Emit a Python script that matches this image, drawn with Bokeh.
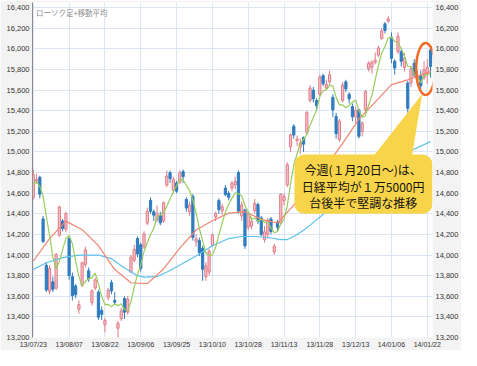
from bokeh.plotting import figure
from bokeh.models import (Range1d, LinearAxis, FixedTicker, NumeralTickFormatter,
                          Label, BoxAnnotation, ColumnDataSource)
from bokeh.embed import file_html
from bokeh.resources import INLINE

# ---------------- data ----------------
tick_labels = ["13/07/23", "13/08/07", "13/08/22", "13/09/06", "13/09/25", "13/10/10",
               "13/10/28", "13/11/13", "13/11/28", "13/12/13", "14/01/06", "14/01/22"]
tick_index = [0, 11, 22, 33, 44, 55, 66, 77, 88, 99, 110, 121]

opens = [14560, 14720, 14755, 14350, 13900, 13650, 13740, 13680, 14190, 14330,
         14250, 14160, 13790, 13700, 13474, 13705, 13909, 13847, 13540, 13680,
         13640, 13464, 13325, 13590, 13733, 13560, 13290, 13384, 13578, 13446,
         13837, 13950, 14160, 14100, 14080, 14310, 14530, 14420, 14340, 14380,
         14330, 14680, 14800, 14630, 14700, 14710, 14810, 14540, 14420, 14570,
         14130, 14140, 14066, 13790, 13835, 14094, 14370, 14530, 14430, 14650,
         14600, 14650, 14680, 14800, 14380, 14437, 14270, 14280, 14430, 14490,
         14360, 14150, 14200, 14350, 14030, 14320, 14310, 14530, 14680, 15050,
         15250, 15110, 15050, 15140, 15190, 15500, 15600, 15500, 15560, 15740,
         15620, 15680, 15530, 15344, 15120, 15500, 15680, 15560, 15440, 15340,
         15409, 15200, 15409, 15807, 15820, 15870, 15940, 16100, 16243, 16270,
         16113, 15880, 15974, 15974, 15820, 15668, 15668, 15860, 15700, 15733,
         15720, 15760, 15990]
highs = [14830, 14790, 14770, 14380, 13930, 13900, 13790, 14020, 14480, 14350,
         14420, 14180, 13830, 13720, 13560, 13935, 14080, 13880, 13670, 13780,
         13660, 13500, 13390, 13680, 13760, 13640, 13360, 13490, 13600, 13600,
         14000, 14100, 14180, 14120, 14230, 14460, 14560, 14440, 14480, 14420,
         14520, 14820, 14820, 14760, 14720, 14820, 14830, 14560, 14520, 14590,
         14200, 14170, 14090, 13930, 14060, 14210, 14420, 14550, 14500, 14680,
         14620, 14720, 14760, 14820, 14520, 14450, 14420, 14370, 14545, 14510,
         14380, 14280, 14360, 14370, 14110, 14340, 14600, 14600, 14900, 15180,
         15270, 15160, 15130, 15150, 15400, 15650, 15630, 15520, 15750, 15760,
         15700, 15790, 15560, 15380, 15320, 15680, 15700, 15580, 15470, 15440,
         15420, 15300, 15600, 15880, 15890, 15965, 16030, 16200, 16260, 16320,
         16160, 15900, 16160, 16000, 15960, 15690, 15830, 15900, 15790, 15790,
         15880, 15900, 16010]
lows = [14540, 14690, 14550, 14120, 13640, 13620, 13640, 13660, 14180, 14230,
        14220, 13760, 13560, 13580, 13430, 13690, 13880, 13740, 13510, 13660,
        13370, 13370, 13250, 13560, 13620, 13520, 13190, 13360, 13380, 13420,
        13820, 13930, 13980, 13840, 14060, 14290, 14400, 14330, 14320, 14290,
        14310, 14660, 14700, 14600, 14600, 14690, 14700, 14420, 14380, 14140,
        14080, 13990, 13750, 13750, 13800, 14080, 14330, 14400, 14390, 14570,
        14530, 14620, 14640, 14400, 14330, 14060, 14240, 14250, 14400, 14300,
        14180, 14120, 14160, 14200, 14000, 14230, 14300, 14480, 14660, 15000,
        15130, 15060, 14980, 15000, 15170, 15480, 15480, 15400, 15540, 15640,
        15600, 15650, 15340, 15130, 15100, 15480, 15580, 15470, 15300, 15280,
        15130, 15150, 15380, 15780, 15760, 15850, 15920, 16090, 16150, 16250,
        15860, 15750, 15950, 15830, 15780, 15380, 15630, 15720, 15660, 15600,
        15700, 15660, 15720]
closes = [14778, 14731, 14590, 14129, 13661, 13869, 13668, 14005, 14466, 14258,
          14401, 13800, 13606, 13615, 13519, 13925, 14050, 13770, 13651, 13758,
          13397, 13425, 13366, 13660, 13652, 13542, 13338, 13459, 13446, 13573,
          13979, 14054, 14010, 13870, 14205, 14424, 14425, 14387, 14404, 14312,
          14506, 14766, 14742, 14733, 14620, 14799, 14760, 14456, 14485, 14170,
          14157, 14024, 13862, 13895, 14038, 14194, 14405, 14441, 14468, 14586,
          14561, 14694, 14713, 14426, 14486, 14088, 14396, 14326, 14502, 14327,
          14201, 14225, 14337, 14229, 14086, 14269, 14588, 14567, 14876, 15165,
          15164, 15126, 15086, 15076, 15381, 15619, 15515, 15449, 15727, 15662,
          15655, 15749, 15407, 15177, 15299, 15650, 15611, 15515, 15341, 15403,
          15152, 15279, 15587, 15859, 15870, 15890, 16009, 16174, 16178, 16291,
          15908, 15814, 16121, 15880, 15912, 15422, 15809, 15747, 15734, 15641,
          15796, 15821, 15830]

# 5-day moving average (green), one value per candle
ma5 = [14690, 14713, 14664, 14572, 14372, 14190, 13978, 13866, 13934, 14053,
       14160, 14191, 14111, 13941, 13793, 13698, 13743, 13772, 13779, 13827,
       13722, 13597, 13519, 13521, 13497, 13526, 13509, 13527, 13473, 13460,
       13548, 13691, 13812, 13906, 14033, 14122, 14196, 14260, 14369, 14390,
       14407, 14475, 14546, 14612, 14673, 14732, 14731, 14674, 14624, 14534,
       14406, 14259, 14138, 14020, 13994, 14001, 14077, 14195, 14309, 14419,
       14492, 14550, 14604, 14596, 14576, 14481, 14422, 14344, 14360, 14328,
       14350, 14316, 14318, 14264, 14216, 14229, 14302, 14348, 14477, 14693,
       14872, 14980, 15083, 15123, 15167, 15258, 15335, 15408, 15538, 15594,
       15602, 15648, 15640, 15530, 15457, 15456, 15429, 15450, 15483, 15504,
       15404, 15338, 15352, 15456, 15549, 15697, 15843, 15960, 16024, 16108,
       16112, 16073, 16062, 16003, 15927, 15830, 15829, 15754, 15725, 15671,
       15745, 15748, 15764]

# 25-day moving average (red), read at sampled candles
ma25_index = [0, 5, 10, 15, 20, 25, 30, 35, 40, 45, 50, 55, 60, 65, 70, 75, 80,
              85, 90, 95, 100, 105, 110, 115, 120, 122]
ma25 = [13942, 14159, 14329, 14246, 14092, 13859, 13731, 13723, 13865, 14067,
        14243, 14333, 14407, 14422, 14346, 14311, 14485, 14638, 14862, 15083,
        15318, 15483, 15654, 15700, 15758, 15779]

# 75-day moving average (blue), read at sampled candles
ma75_index = [0, 4, 9, 14, 20, 24, 28, 32, 34, 38, 42, 46, 50, 55, 60, 64, 68,
              72, 76, 78, 80, 83, 85, 90, 100, 115, 122]
ma75 = [13860, 13925, 13975, 14000, 14000, 13965, 13875, 13800, 13785, 13790,
        13850, 13920, 13990, 14090, 14160, 14180, 14180, 14170, 14150, 14150,
        14180, 14240, 14290, 14420, 14680, 15000, 15100]

y_ticks = list(range(13200, 16401, 200))

title_text = "ローソク足+移動平均"
unit_text = "(円)"
callout_lines = ["今週(１月20日～)は、", "日経平均が１万5000円", "台後半で堅調な推移"]

# ---------------- styling ----------------
PINK_FILL = "#f6c4cb"
PINK_LINE = "#e27a86"
BLUE = "#2f7cbf"
GREEN = "#98cc5c"
RED = "#f28470"
SKY = "#5cc0ec"
GRID = "#dbe5f4"
YELLOW = "#f8d44a"
ORANGE = "#f26a21"
PANEL = "#f3f3f3"
AXIS_FONT = "Liberation Sans"
JP_FONT = "Noto Sans CJK JP"

n = len(closes)
p = figure(width=461, height=350,
           x_range=Range1d(-0.25, 122.6), y_range=Range1d(13200, 16450),
           output_backend="svg", toolbar_location=None,
           min_border_left=32, min_border_right=29, min_border_top=2, min_border_bottom=13,
           background_fill_color="white", border_fill_color=PANEL,
           outline_line_color=None)


def style_axis(ax, size, standoff):
    ax.major_tick_line_color = None
    ax.minor_tick_line_color = None
    ax.major_tick_out = 0
    ax.major_tick_in = 0
    ax.minor_tick_out = 0
    ax.minor_tick_in = 0
    ax.major_label_standoff = standoff
    ax.major_label_text_font = AXIS_FONT
    ax.major_label_text_font_size = size
    ax.major_label_text_color = "#333333"


# left axis
la = p.yaxis[0]
la.ticker = FixedTicker(ticks=y_ticks)
la.formatter = NumeralTickFormatter(format="0,0")
la.axis_line_color = "#8c8c8c"
style_axis(la, "7.5px", 3)

# right axis
ra = LinearAxis(ticker=FixedTicker(ticks=y_ticks), formatter=NumeralTickFormatter(format="0,0"))
ra.axis_line_color = None
style_axis(ra, "7.5px", 3)
p.add_layout(ra, "right")

xa = p.xaxis[0]
xa.ticker = FixedTicker(ticks=tick_index)
xa.major_label_overrides = {i: lab for i, lab in zip(tick_index, tick_labels)}
xa.axis_line_color = None
style_axis(xa, "7px", 3)

p.xgrid.ticker = FixedTicker(ticks=tick_index)
p.ygrid.ticker = FixedTicker(ticks=y_ticks)
p.xgrid.grid_line_color = GRID
p.ygrid.grid_line_color = GRID

# candles
idx = list(range(n))
up = [i for i in idx if closes[i] >= opens[i]]
dn = [i for i in idx if closes[i] < opens[i]]
src_up = ColumnDataSource(dict(x=up, o=[opens[i] for i in up], c=[closes[i] for i in up],
                               h=[highs[i] for i in up], l=[lows[i] for i in up]))
src_dn = ColumnDataSource(dict(x=dn, o=[opens[i] for i in dn], c=[closes[i] for i in dn],
                               h=[highs[i] for i in dn], l=[lows[i] for i in dn]))
p.segment(x0="x", y0="l", x1="x", y1="h", source=src_up, line_color=PINK_LINE, line_width=1)
p.vbar(x="x", bottom="o", top="c", width=0.68, source=src_up,
       fill_color=PINK_FILL, line_color=PINK_LINE, line_width=1)
p.segment(x0="x", y0="l", x1="x", y1="h", source=src_dn, line_color=BLUE, line_width=1)
p.vbar(x="x", bottom="c", top="o", width=0.68, source=src_dn,
       fill_color=BLUE, line_color=BLUE, line_width=1)

# moving averages
p.line(ma75_index, ma75, line_color=SKY, line_width=1.2)
p.line(ma25_index, ma25, line_color=RED, line_width=1.2)
p.line(idx, ma5, line_color=GREEN, line_width=1.2)

# highlight of this week's candles
wk = idx[-4:]
cx = (wk[0] + wk[-1]) / 2
cy = (max(highs[i] for i in wk) + min(lows[i] for i in wk)) / 2
p.ellipse(x=[cx], y=[cy], width=19, height=52, width_units="screen", height_units="screen",
          fill_color=None, line_color=ORANGE, line_width=2.5)

# callout tail
p.patch([103.0, 119.4, 116.0], [14900, 15560, 14900], fill_color=YELLOW, line_color=None)

# callout box + text
box = BoxAnnotation(left=80.2, right=122.6, bottom=14400, top=14975,
                    fill_color=YELLOW, fill_alpha=1.0, line_color=None, border_radius=10)
p.add_layout(box)
for t, yy in zip(callout_lines, [14828, 14665, 14505]):
    p.add_layout(Label(x=101.3, y=yy, text=t, text_align="center", text_baseline="middle",
                       text_font=JP_FONT, text_font_size="12px", text_color="#111111"))

p.add_layout(Label(x=0.8, y=16405, text=title_text, text_baseline="top", text_align="left",
                   text_font=JP_FONT, text_font_size="7.5px", text_color="#8a8a8a"))
p.add_layout(Label(x=-9.5, y=13130, text=unit_text, text_baseline="middle", text_align="left",
                   text_font=JP_FONT, text_font_size="7px", text_color="#333333"))

open("out.html", "w").write(file_html(p, INLINE))
